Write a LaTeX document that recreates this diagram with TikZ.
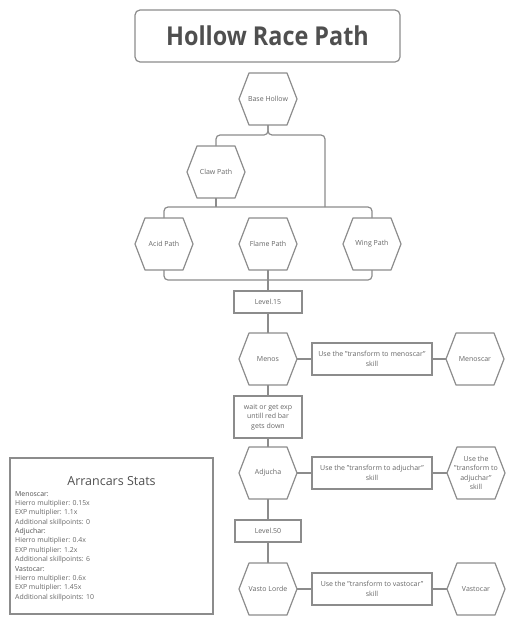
\documentclass[tikz,border=0pt]{standalone}
\usepackage{fontspec}
\setmainfont{Open Sans}
\newfontfamily\headfont{Open Sans}[FakeStretch=0.9]
\usepackage{xcolor}
\usepackage{tikz}
\usetikzlibrary{positioning}

\definecolor{linegray}{HTML}{8C8C8C}
\definecolor{textgray}{HTML}{666666}
\definecolor{titlegray}{HTML}{4F4F4F}

\begin{document}
\begin{tikzpicture}[x=1pt,y=1pt,node distance=58pt,
  hex node/.style={rectangle,minimum width=58pt,minimum height=52pt,
    inner sep=0pt,outer sep=0pt,align=center,
    text=textgray,font=\fontsize{7}{9.4}\selectfont,
    append after command={\pgfextra{\draw[linegray,line width=1.2pt,line join=round]
      (\tikzlastnode.west) -- ([xshift=10pt]\tikzlastnode.north west)
      -- ([xshift=-10pt]\tikzlastnode.north east) -- (\tikzlastnode.east)
      -- ([xshift=-10pt]\tikzlastnode.south east)
      -- ([xshift=10pt]\tikzlastnode.south west) -- cycle;}}},
  box node/.style={rectangle,draw=linegray,line width=1.2pt,
    minimum width=68pt,minimum height=22pt,inner sep=1pt,align=center,
    text=textgray,font=\fontsize{7}{9.4}\selectfont},
  skill box/.style={box node,minimum width=120pt,minimum height=32pt},
  link/.style={draw=linegray,line width=1.2pt,rounded corners=4pt}]
  \useasboundingbox (0,0) rectangle (514,-640);

  \node[draw=linegray,line width=1.2pt,rounded corners=5pt,
    minimum width=265pt,minimum height=52pt,text=titlegray,
    font=\fontsize{26}{30}\headfont\bfseries] (title) at (267.5,-36) {Hollow Race Path};

  \node[hex node] (base) at (268,-99) {Base Hollow};
  \node[hex node] (claw) at (216,-172) {Claw Path};
  \node[hex node] (flame) [below of=base,node distance=145pt] {Flame Path};
  \node[hex node] (acid) [left of=flame,node distance=104pt] {Acid Path};
  \node[hex node] (wing) [right of=flame,node distance=104pt] {Wing Path};
  \coordinate (topbar) at (325,-207);

  \node[box node] (lvl15) [below of=flame] {Level.15};
  \node[hex node] (menos) [below of=lvl15,node distance=57pt] {Menos};
  \node[skill box] (use1) [right of=menos,node distance=104pt] {Use the "transform to menoscar"\\skill};
  \node[hex node] (menoscar) [right of=use1,node distance=103pt] {Menoscar};

  \node[box node,minimum height=42pt] (wait) [below of=menos] {wait or get exp\\untill red bar\\gets down};
  \node[hex node] (adjucha) [below of=wait,node distance=56pt] {Adjucha};
  \node[skill box] (use2) [right of=adjucha,node distance=104pt] {Use the "transform to adjuchar"\\skill};
  \node[hex node] (adjuchar) [right of=use2,node distance=104pt] {Use the\\"transform to\\adjuchar"\\skill};

  \node[box node,minimum width=66pt] (lvl50) [below of=adjucha] {Level.50};
  \node[hex node] (vasto) [below of=lvl50] {Vasto Lorde};
  \node[skill box] (use3) [right of=vasto,node distance=104pt] {Use the "transform to vastocar"\\skill};
  \node[hex node] (vastocar) [right of=use3,node distance=104pt] {Vastocar};

  % stats panel
  \node[draw=linegray,line width=1.2pt,minimum width=203pt,minimum height=156pt] (stats) at (111.5,-536) {};
  \node[text=titlegray,font=\fontsize{12.5}{14}\selectfont] (statshead) at (111.5,-481) {Arrancars Stats};
  \node[anchor=north west,inner sep=0pt,align=left,text=textgray,
    font=\fontsize{6.9}{9.36}\selectfont] (statlist) at (15,-491)
    {\textcolor{titlegray}{Menoscar:}\\
     Hierro multiplier: 0.15x\\
     EXP multiplier: 1.1x\\
     Additional skillpoints: 0\\
     \textcolor{titlegray}{Adjuchar:}\\
     Hierro multiplier: 0.4x\\
     EXP multiplier: 1.2x\\
     Additional skillpoints: 6\\
     \textcolor{titlegray}{Vastocar:}\\
     Hierro multiplier: 0.6x\\
     EXP multiplier: 1.45x\\
     Additional skillpoints: 10};

  % branches
  \draw[link] (base.south) -- ++(0,-10) -| (claw.north);
  \draw[link] (base.south) -- ++(0,-10) -| (topbar);
  \draw[link] (acid.north) |- (topbar) -| (wing.north);
  \draw[link] (claw.south) -- (claw.south |- topbar);
  \draw[link] (acid.south) -- ++(0,-10) -| (wing.south);

  \path[link]
  (flame) edge (lvl15)
  (lvl15) edge (menos)
  (menos) edge (wait)
          edge (use1)
  (use1) edge (menoscar)
  (wait) edge (adjucha)
  (adjucha) edge (lvl50)
            edge (use2)
  (use2) edge (adjuchar)
  (lvl50) edge (vasto)
  (vasto) edge (use3)
  (use3) edge (vastocar);
\end{tikzpicture}
\end{document}
